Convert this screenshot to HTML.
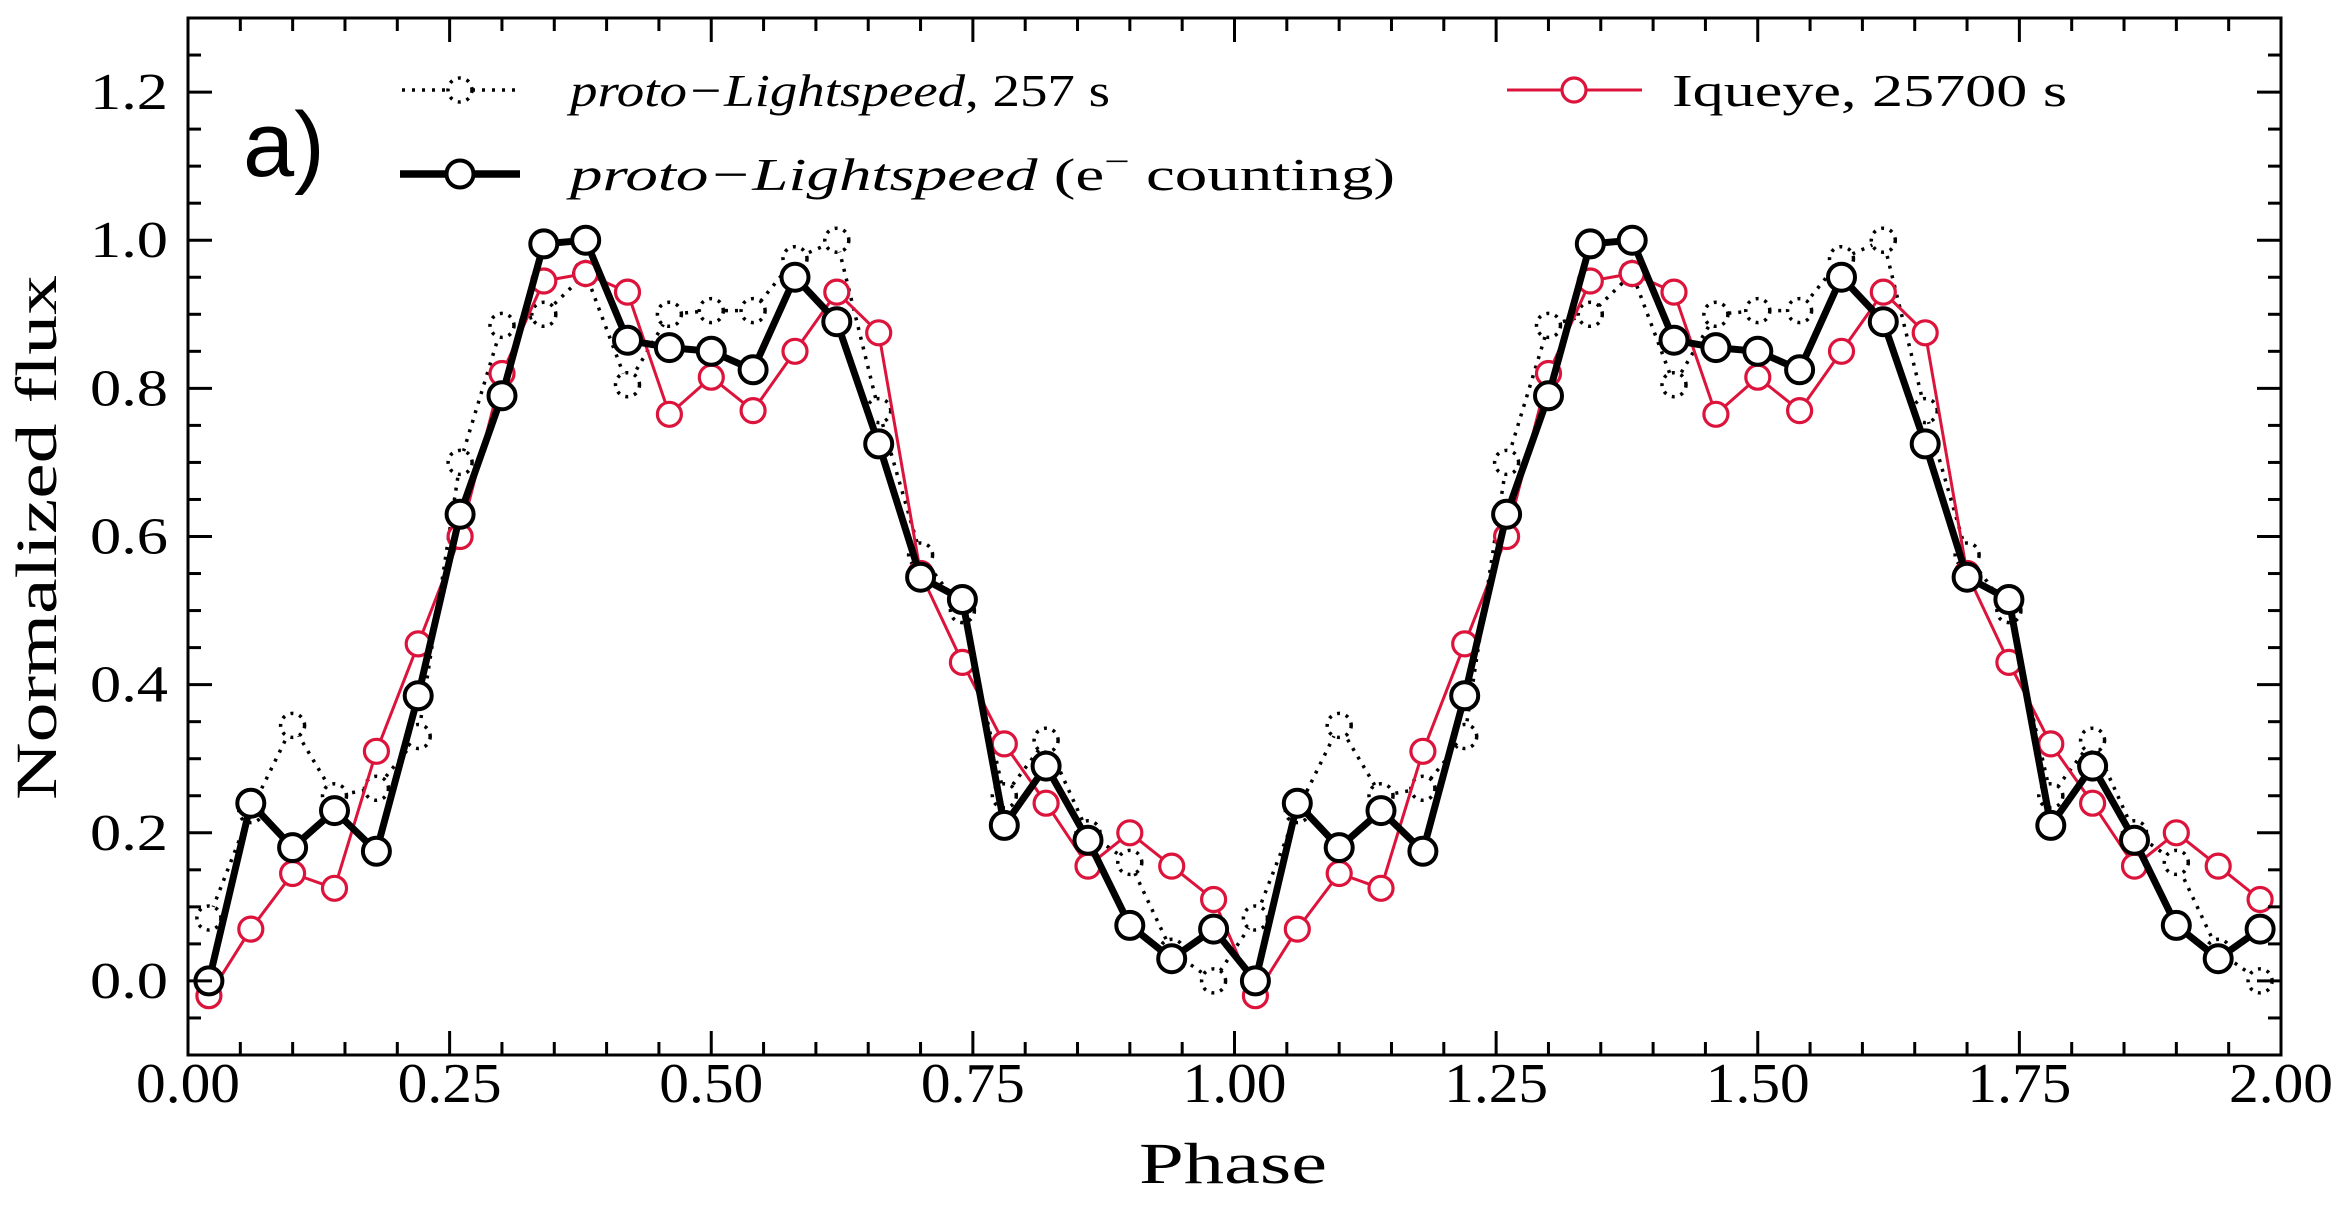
<!DOCTYPE html>
<html><head><meta charset="utf-8"><style>
html,body{margin:0;padding:0;background:#fff;}
svg{display:block;}
text{font-family:"Liberation Serif",serif;fill:#000;}
</style></head><body>
<svg id="s" width="2351" height="1211" xmlns="http://www.w3.org/2000/svg"></svg>
<script>
const L=188,R=2281,T=18,B=1055;
const X=p=>L+(p)*(R-L)/2;
const Y=v=>B-(v+0.1)*(B-T)/1.4;
const blk=[0,0.24,0.18,0.23,0.175,0.385,0.63,0.79,0.995,1.0,0.865,0.855,0.85,0.825,0.95,0.89,0.725,0.545,0.515,0.21,0.29,0.19,0.075,0.03,0.07];
const red=[-0.02,0.07,0.145,0.125,0.31,0.455,0.6,0.82,0.945,0.955,0.93,0.765,0.815,0.77,0.85,0.93,0.875,0.55,0.43,0.32,0.24,0.155,0.2,0.155,0.11];
const dot=[0.085,0.23,0.345,0.25,0.26,0.33,0.7,0.885,0.9,0.955,0.805,0.9,0.905,0.905,0.975,1.0,0.77,0.575,0.5,0.25,0.325,0.2,0.16,0.04,0.0];
let h='';
function series(d,col,lw,dash,r,mw,mdash){
  let pts=[];for(let c=0;c<2;c++)for(let i=0;i<25;i++)pts.push([X(0.02+0.04*i+c),Y(d[i])]);
  h+=`<polyline points="${pts.map(p=>p[0].toFixed(1)+','+p[1].toFixed(1)).join(' ')}" fill="none" stroke="${col}" stroke-width="${lw}" ${dash?`stroke-dasharray="${dash}"`:''} stroke-linejoin="round"/>`;
  for(const p of pts)h+=`<circle cx="${p[0].toFixed(1)}" cy="${p[1].toFixed(1)}" r="${r}" fill="#fff" stroke="${col}" stroke-width="${mw}" ${mdash?`stroke-dasharray="${mdash}"`:''}/>`;
}
series(dot,'#000',3.5,'3,7',12,3.5,'3,6');
series(red,'#dc143c',3,null,12,3.2,null);
series(blk,'#000',7,null,13.5,4,null);
h+=`<rect x="${L}" y="${T}" width="${R-L}" height="${B-T}" fill="none" stroke="#000" stroke-width="3"/>`;
for(let i=0;i<=40;i++){const p=i*0.05,x=X(p),maj=i%5==0,len=maj?24:13;
  h+=`<line x1="${x}" y1="${B}" x2="${x}" y2="${B-len}" stroke="#000" stroke-width="3"/><line x1="${x}" y1="${T}" x2="${x}" y2="${T+len}" stroke="#000" stroke-width="3"/>`;
  if(maj)h+=`<text x="${x-52}" y="1102" font-size="56" textLength="104" lengthAdjust="spacingAndGlyphs">${p.toFixed(2)}</text>`;}
for(let i=-2;i<=26;i++){const v=i*0.05,y=Y(v),maj=i%4==0,len=maj?24:13;
  h+=`<line x1="${L}" y1="${y}" x2="${L+len}" y2="${y}" stroke="#000" stroke-width="3"/><line x1="${R}" y1="${y}" x2="${R-len}" y2="${y}" stroke="#000" stroke-width="3"/>`;
  if(maj&&i>=0)h+=`<text x="90" y="${y+17}" font-size="52" textLength="78" lengthAdjust="spacingAndGlyphs">${v.toFixed(1)}</text>`;}
h+=`<text x="1139" y="1183" font-size="58" textLength="188" lengthAdjust="spacingAndGlyphs">Phase</text>`;
h+=`<text transform="translate(56,800) rotate(-90)" font-size="58" textLength="525" lengthAdjust="spacingAndGlyphs">Normalized flux</text>`;
h+=`<text x="243" y="176" font-size="92" style="font-family:'Liberation Sans',sans-serif">a)</text>`;
h+=`<line x1="402" y1="90" x2="518" y2="90" stroke="#000" stroke-width="3.5" stroke-dasharray="3,7"/><circle cx="460" cy="90" r="12" fill="#fff" stroke="#000" stroke-width="3.5" stroke-dasharray="3,6"/>`;
h+=`<text x="570" y="106" font-size="46" textLength="540" lengthAdjust="spacingAndGlyphs"><tspan font-style="italic">proto−Lightspeed</tspan>, 257 s</text>`;
h+=`<line x1="400" y1="174" x2="520" y2="174" stroke="#000" stroke-width="7.5"/><circle cx="460" cy="174" r="13.5" fill="#fff" stroke="#000" stroke-width="4"/>`;
h+=`<text x="570" y="190" font-size="46" textLength="825" lengthAdjust="spacingAndGlyphs"><tspan font-style="italic">proto−Lightspeed</tspan> (e<tspan dy="-18" font-size="32">−</tspan><tspan dy="18"> counting)</tspan></text>`;
h+=`<line x1="1507" y1="90" x2="1642" y2="90" stroke="#dc143c" stroke-width="3"/><circle cx="1574" cy="90" r="12" fill="#fff" stroke="#dc143c" stroke-width="3.2"/>`;
h+=`<text x="1672" y="106" font-size="46" textLength="395" lengthAdjust="spacingAndGlyphs">Iqueye, 25700 s</text>`;
document.getElementById('s').innerHTML=h;
</script>
</body></html>
